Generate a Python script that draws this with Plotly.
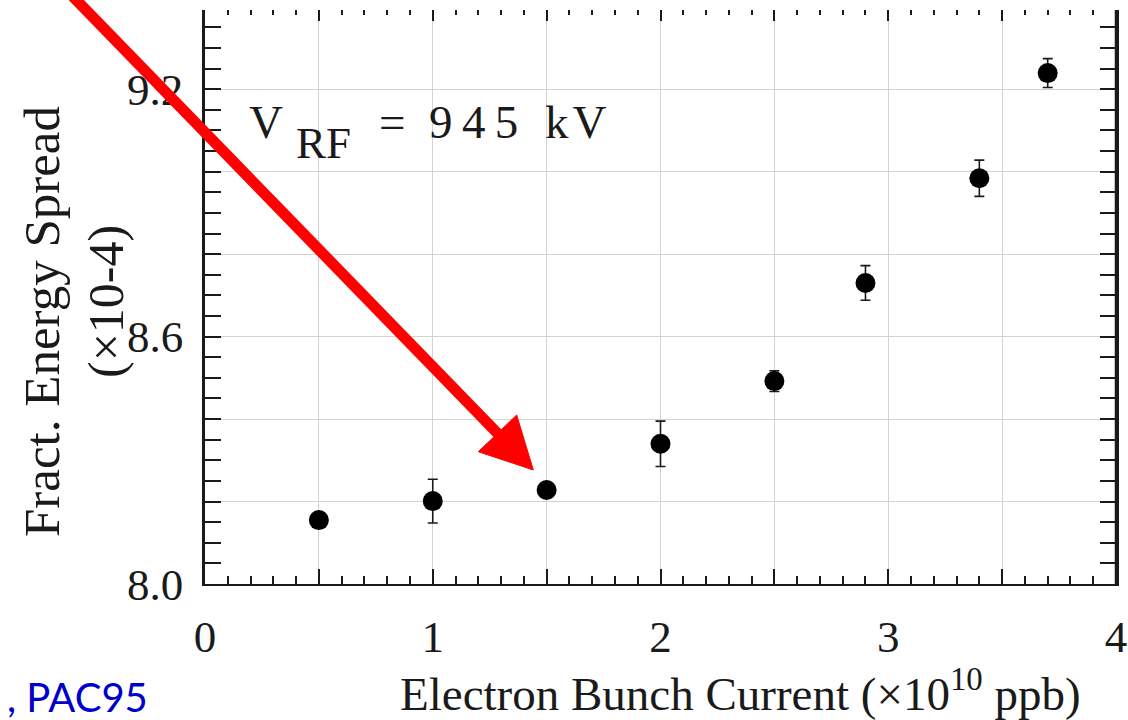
import plotly.graph_objects as go

# ---- data ----
current = [0.5, 1.0, 1.5, 2.0, 2.5, 2.9, 3.4, 3.7]
spread = [8.155, 8.201, 8.228, 8.340, 8.492, 8.730, 8.984, 9.239]
spread_err = [0.01, 0.053, 0.01, 0.055, 0.025, 0.042, 0.044, 0.035]

x_major = [0, 0.5, 1, 1.5, 2, 2.5, 3, 3.5, 4]
x_labels = ["0", " ", "1", " ", "2", " ", "3", " ", "4"]
y_major = [8.0, 8.2, 8.4, 8.6, 8.8, 9.0, 9.2]
y_labels = ["8.0", " ", " ", "8.6", " ", " ", "9.2"]

W, H = 1128, 720
L, R, T, B = 205, 12, 10, 136
PW, PH = W - L - R, H - T - B

def px(x):
    return (x - L) / PW

def py(y):
    return (H - B - y) / PH

SERIF = "Liberation Serif"
INK = "#1a1a1a"

fig = go.Figure()
fig.add_trace(go.Scatter(
    x=current, y=spread, mode="markers",
    marker=dict(color="black", size=20),
    error_y=dict(type="data", array=spread_err, color=INK, thickness=1.6, width=5),
    showlegend=False, hoverinfo="skip",
))
# invisible trace on top axis so it is drawn
fig.add_trace(go.Scatter(x=[None], y=[None], xaxis="x2", showlegend=False))

minor_x = dict(dtick=0.1, ticks="inside", ticklen=8, tickwidth=1.6, tickcolor=INK, showgrid=False)

fig.update_layout(
    width=W, height=H,
    margin=dict(l=L, r=R, t=T, b=B),
    paper_bgcolor="white", plot_bgcolor="white",
    xaxis=dict(
        range=[0, 4], tickvals=x_major, ticktext=x_labels,
        ticks="inside", ticklen=15, tickwidth=1.8, tickcolor=INK,
        showline=True, linecolor=INK, linewidth=2,
        showgrid=True, gridcolor="#d2d2d2", gridwidth=1,
        zeroline=False, minor=minor_x, automargin=False,
        ticklabeloverflow="allow",
        tickfont=dict(family=SERIF, size=45, color=INK),
        ticklabelstandoff=12,
    ),
    xaxis2=dict(
        range=[0, 4], matches="x", overlaying="x", side="top",
        tickvals=x_major, showticklabels=False, automargin=False,
        ticks="inside", ticklen=11, tickwidth=1.8, tickcolor=INK,
        showline=False, showgrid=False, zeroline=False,
        minor=dict(dtick=0.1, ticks="inside", ticklen=5, tickwidth=1.6, tickcolor=INK, showgrid=False),
    ),
    yaxis=dict(
        range=[8.0, 9.392], tickvals=y_major, ticktext=y_labels,
        ticks="inside", ticklen=16, tickwidth=1.8, tickcolor=INK,
        showline=True, linecolor=INK, linewidth=2.5, mirror="allticks",
        showgrid=True, gridcolor="#d2d2d2", gridwidth=1,
        zeroline=False, automargin=False, ticklabeloverflow="allow",
        minor=dict(dtick=0.05, ticks="inside", ticklen=9, tickwidth=1.6, tickcolor=INK, showgrid=False),
        tickfont=dict(family=SERIF, size=45, color=INK),
        ticklabelstandoff=10,
    ),
)

# right frame line
fig.add_shape(type="line", xref="paper", yref="paper", x0=1, x1=1, y0=0, y1=1,
              line=dict(color=INK, width=2.5))

def ann(text, x, y, size, angle=0, color=INK, family=SERIF, xanchor="center"):
    fig.add_annotation(
        text=text, x=px(x), y=py(y), xref="paper", yref="paper",
        showarrow=False, xanchor=xanchor, yanchor="middle", textangle=angle,
        font=dict(family=family, size=size, color=color),
    )

# axis titles
ann("Electron Bunch Current (×10<sup>10</sup> ppb)", 740, 690, 47)
ann("Fract. Energy Spread", 42, 322, 51, angle=-90)
ann("(×10-4)", 106, 302, 50, angle=-90)

# V_RF label
ann("V", 266, 122, 47)
ann("RF", 323, 143, 45)
ann("=", 392, 122, 47)
ann("9&#8201;4&#8201;5", 473, 122, 47)
ann("k&#8202;V", 575, 122, 47)

# citation fragment
ann(", PAC95", 150, 697, 40, color="#0000CC", family="Lato", xanchor="right")

# red arrow
RED = "#FF0000"
fig.add_shape(type="line", xref="paper", yref="paper",
              x0=px(50), y0=py(-27), x1=px(505), y1=py(441),
              line=dict(color=RED, width=11))
tri = [(533.3, 470), (478.3, 451.7), (516.7, 415)]
path = "M {} {} L {} {} L {} {} Z".format(*[v for p in tri for v in (px(p[0]), py(p[1]))])
fig.add_shape(type="path", xref="paper", yref="paper", path=path,
              fillcolor=RED, line=dict(color=RED, width=1))

fig.write_html("out.html")
